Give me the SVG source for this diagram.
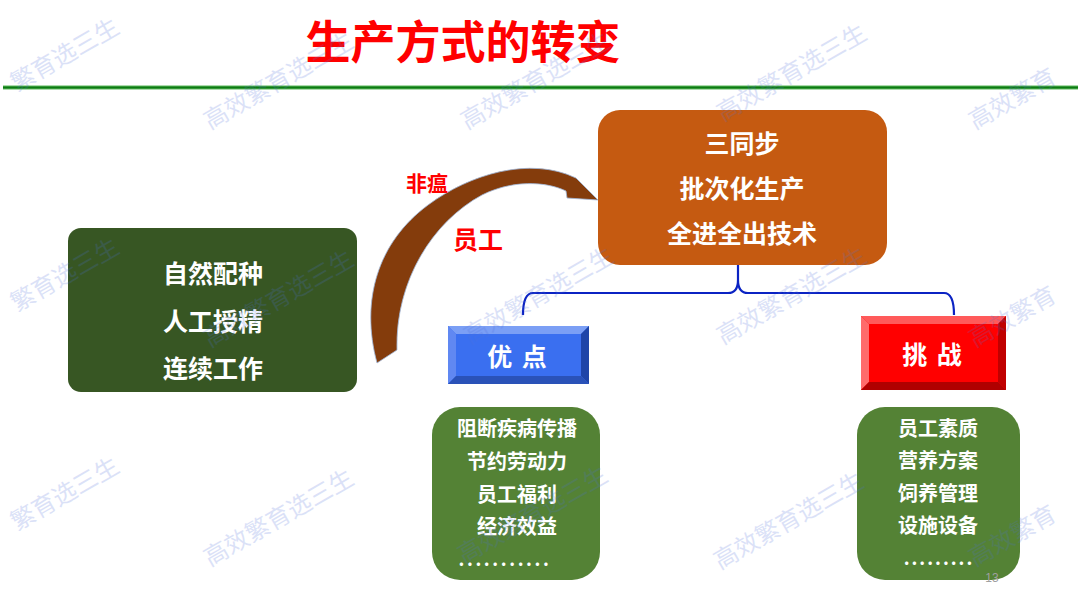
<svg xmlns="http://www.w3.org/2000/svg" width="1080" height="603" viewBox="0 0 1080 603">
<style>
.cjk{font-family:"Noto Sans CJK SC","Liberation Sans",sans-serif;font-weight:700}
.wt{fill:#fff;text-anchor:middle;dominant-baseline:central}
.red{fill:#ff0000;text-anchor:middle;dominant-baseline:central}
.wm{font-family:"Noto Sans CJK SC",sans-serif;font-size:24px;fill:#4f6fdc;opacity:0.2}
</style>
<rect width="1080" height="603" fill="#fff"/>
<g id="title">
<text class="cjk red" x="463" y="39" font-size="45">生产方式的转变</text>
<rect x="3" y="85.5" width="1075" height="4" fill="#5cb85c"/>
<line x1="3" y1="87.5" x2="1078" y2="87.5" stroke="#0c7a12" stroke-width="2"/>
</g>
<g id="connectors">
<path d="M377,363 C360,300 378,242 428,205 C470,174 530,156 576,178 L598,200 L567,198 L566,191 C545,181 512,180 482,195 C432,222 395,282 397,350 Z" fill="#843c0c" stroke="#9fb6d8" stroke-width="0.8"/>
<path d="M523,315 Q523,293 533,293 L728,293 Q738,293 738,280 L738,265 M738,280 Q738,293 748,293 L944,293 Q954,293 954,315" fill="none" stroke="#0b23c3" stroke-width="2.2"/>
<text class="cjk red" x="427" y="182" font-size="21">非瘟</text>
<text class="cjk red" x="478" y="238" font-size="25">员工</text>
</g>
<g id="left-box">
<rect x="68" y="228" width="289" height="164" rx="13" fill="#375623"/>
<text class="cjk wt" x="213" y="272" font-size="25">自然配种</text>
<text class="cjk wt" x="213" y="320" font-size="25">人工授精</text>
<text class="cjk wt" x="213" y="367" font-size="25">连续工作</text>
</g>
<g id="top-box">
<rect x="598" y="110" width="289" height="155" rx="22" fill="#c55a11"/>
<text class="cjk wt" x="742" y="142" font-size="25">三同步</text>
<text class="cjk wt" x="742" y="187" font-size="25">批次化生产</text>
<text class="cjk wt" x="742" y="232" font-size="25">全进全出技术</text>
</g>
<g id="pros-btn">
<rect x="448" y="326" width="141" height="58" fill="#3a6ff0"/>
<polygon points="448,326 589,326 581,334 456,334" fill="#7b9ff5"/>
<polygon points="448,326 456,334 456,376 448,384" fill="#6088f2"/>
<polygon points="589,326 589,384 581,376 581,334" fill="#1f45a8"/>
<polygon points="448,384 589,384 581,376 456,376" fill="#2a52b8"/>
<text class="cjk wt" x="518" y="355" font-size="25" letter-spacing="2">优 点</text>
</g>
<g id="cons-btn">
<rect x="861" y="316" width="145" height="74" fill="#ff0000"/>
<polygon points="861,316 1006,316 998,324 869,324" fill="#ff5a5a"/>
<polygon points="861,316 869,324 869,382 861,390" fill="#ff6b6b"/>
<polygon points="1006,316 1006,390 998,382 998,324" fill="#c00000"/>
<polygon points="861,390 1006,390 998,382 869,382" fill="#b00000"/>
<text class="cjk wt" x="933" y="353" font-size="25" letter-spacing="2">挑 战</text>
</g>
<g id="pros-box">
<rect x="432" y="407" width="168" height="173" rx="28" fill="#548235"/>
<text class="cjk wt" x="517" y="427" font-size="20">阻断疾病传播</text>
<text class="cjk wt" x="517" y="460" font-size="20">节约劳动力</text>
<text class="cjk wt" x="517" y="493" font-size="20">员工福利</text>
<text class="cjk wt" x="517" y="525" font-size="20">经济效益</text>
<text class="cjk wt" x="505" y="558" font-size="18" letter-spacing="2.6">...........</text>
</g>
<g id="cons-box">
<rect x="857" y="407" width="163" height="173" rx="28" fill="#548235"/>
<text class="cjk wt" x="938" y="427" font-size="20">员工素质</text>
<text class="cjk wt" x="938" y="459" font-size="20">营养方案</text>
<text class="cjk wt" x="938" y="492" font-size="20">饲养管理</text>
<text class="cjk wt" x="938" y="524" font-size="20">设施设备</text>
<text class="cjk wt" x="939" y="557" font-size="18" letter-spacing="2">.........</text>
</g>
<text x="992" y="578" font-family="Liberation Sans,sans-serif" font-size="12" fill="#a0a0a0" text-anchor="middle" dominant-baseline="central">13</text>
<g id="watermarks">
<text class="wm" transform="translate(17,92) rotate(-30)">繁育选三生</text>
<text class="wm" transform="translate(210,130) rotate(-30)">高效繁育选三生</text>
<text class="wm" transform="translate(467,130) rotate(-30)">高效繁育选三生</text>
<text class="wm" transform="translate(723,122) rotate(-30)">高效繁育选三生</text>
<text class="wm" transform="translate(975,130) rotate(-30)">高效繁育</text>
<text class="wm" transform="translate(17,312) rotate(-30)">繁育选三生</text>
<text class="wm" transform="translate(210,348) rotate(-30)">高效繁育选三生</text>
<text class="wm" transform="translate(470,345) rotate(-30)">高效繁育选三生</text>
<text class="wm" transform="translate(723,345) rotate(-30)">高效繁育选三生</text>
<text class="wm" transform="translate(975,348) rotate(-30)">高效繁育</text>
<text class="wm" transform="translate(17,531) rotate(-30)">繁育选三生</text>
<text class="wm" transform="translate(210,567) rotate(-30)">高效繁育选三生</text>
<text class="wm" transform="translate(464,564) rotate(-30)">高效繁育选三生</text>
<text class="wm" transform="translate(720,570) rotate(-30)">高效繁育选三生</text>
<text class="wm" transform="translate(975,567) rotate(-30)">高效繁育</text>
</g>
</svg>
